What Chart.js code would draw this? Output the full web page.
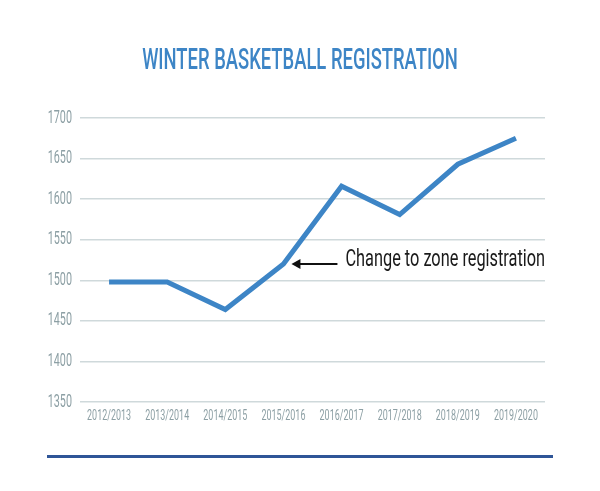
<!DOCTYPE html>
<html>
<head>
<meta charset="utf-8">
<script src="https://cdn.jsdelivr.net/npm/chart.js@4.4.1/dist/chart.umd.min.js"></script>
<style>
  html, body { margin: 0; padding: 0; background: #ffffff; }
  #wrap { width: 600px; height: 491px; position: relative; }
</style>
</head>
<body>
<div id="wrap"><canvas id="chart" width="600" height="491"></canvas></div>
<script>
var seasons = ['2012/2013', '2013/2014', '2014/2015', '2015/2016', '2016/2017', '2017/2018', '2018/2019', '2019/2020'];
var registrations = [1498, 1498, 1464, 1520, 1616, 1581, 1643, 1675];
var yTicks = [1350, 1400, 1450, 1500, 1550, 1600, 1650, 1700];
var titleText = 'WINTER BASKETBALL REGISTRATION';
var noteIndex = 3;
var noteText = 'Change to zone registration';

var face = 'Roboto, "Noto Sans", sans-serif';
var blue = '#3d85c6';
var tickGrey = '#8c9fa4';

// no condensed face installed, so squeeze the text horizontally
function drawNarrow(ctx, text, x, y, align, font, squeeze, color){
    ctx.save();
    ctx.font = font;
    ctx.fillStyle = color;
    ctx.textBaseline = 'middle';
    ctx.textAlign = 'left';
    var w = ctx.measureText(text).width * squeeze;
    var left = x;
    if( align === 'center' ) left = x - w / 2;
    if( align === 'right' ) left = x - w;
    ctx.translate(left, y);
    ctx.scale(squeeze, 1);
    ctx.fillText(text, 0, 0);
    ctx.restore();
}

var textLayer = {
    id: 'textLayer',
    afterDraw: function(chart){
        var ctx = chart.ctx;
        var xs = chart.scales.x, ys = chart.scales.y;

        drawNarrow(ctx, titleText, 300, 62, 'center', '500 29px ' + face, 0.635, blue);

        yTicks.forEach(function(v){
            drawNarrow(ctx, String(v), chart.chartArea.left - 8, ys.getPixelForValue(v), 'right', '18px ' + face, 0.6, tickGrey);
        });
        seasons.forEach(function(s, i){
            drawNarrow(ctx, s, xs.getPixelForValue(i), chart.chartArea.bottom + 14, 'center', '14px ' + face, 0.64, tickGrey);
        });

        // arrow + note at the 2015/2016 point
        var pt = chart.getDatasetMeta(0).data[noteIndex];
        var tipX = pt.x + 8, y = pt.y;
        ctx.save();
        ctx.strokeStyle = '#111111';
        ctx.fillStyle = '#111111';
        ctx.lineWidth = 2;
        ctx.beginPath();
        ctx.moveTo(tipX + 4, y);
        ctx.lineTo(tipX + 46, y);
        ctx.stroke();
        ctx.beginPath();
        ctx.moveTo(tipX, y);
        ctx.lineTo(tipX + 9, y - 5);
        ctx.lineTo(tipX + 9, y + 5);
        ctx.closePath();
        ctx.fill();
        ctx.restore();
        drawNarrow(ctx, noteText, pt.x + 62, y - 4, 'left', '23px ' + face, 0.71, '#1a1a1a');

        // rule under the chart
        ctx.save();
        ctx.strokeStyle = '#2f5597';
        ctx.lineWidth = 3;
        ctx.beginPath();
        ctx.moveTo(47, 456.5);
        ctx.lineTo(553, 456.5);
        ctx.stroke();
        ctx.restore();
    }
};

new Chart(document.getElementById('chart'), {
    type: 'line',
    data: {
        labels: seasons,
        datasets: [{
            data: registrations,
            borderColor: blue,
            borderWidth: 5,
            pointRadius: 0,
            tension: 0,
            fill: false
        }]
    },
    options: {
        responsive: false,
        animation: false,
        layout: { padding: { left: 0, right: 55, top: 118, bottom: 0 } },
        plugins: {
            legend: { display: false },
            tooltip: { enabled: false },
            title: { display: false }
        },
        scales: {
            x: {
                offset: true,
                grid: { display: false },
                border: { display: false },
                ticks: { display: false },
                afterFit: function(scale){ scale.height = 89; }
            },
            y: {
                min: 1350,
                max: 1700,
                grid: { color: '#cfd9db', lineWidth: 1.5, drawTicks: false },
                border: { display: false },
                afterBuildTicks: function(scale){
                    scale.ticks = yTicks.map(function(v){ return { value: v }; });
                },
                ticks: { display: false },
                afterFit: function(scale){ scale.width = 80; }
            }
        }
    },
    plugins: [textLayer]
});
</script>
</body>
</html>
